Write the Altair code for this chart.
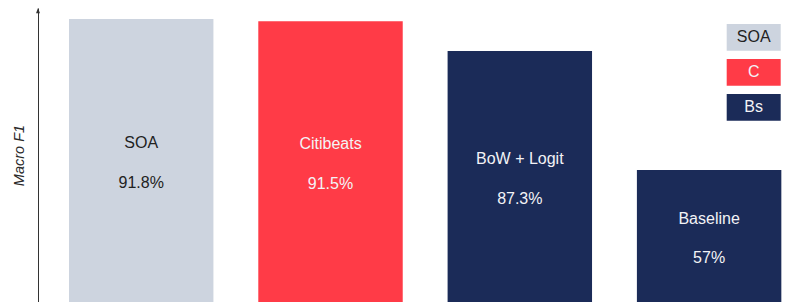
import altair as alt
import pandas as pd

methods = ["SOA", "Citibeats", "BoW + Logit", "Baseline"]
scores = [91.8, 91.5, 87.3, 57]
score_labels = ["91.8%", "91.5%", "87.3%", "57%"]
groups = ["SOA", "C", "Bs", "Bs"]
legend_keys = ["SOA", "C", "Bs"]
palette = ["#CDD4DF", "#FF3B47", "#1B2B58"]

df = pd.DataFrame({"method": methods, "score": scores, "label": score_labels, "group": groups})
leg = pd.DataFrame({"group": legend_keys})
tip = pd.DataFrame({"t": [0]})

W, H = 761, 294
FONT = "Liberation Sans"

y_scale = alt.Scale(domain=[0, 57, 87.3, 91.8, 100], range=[H, 162, 43, 11, 0])
x_scale = alt.Scale(domain=methods, paddingInner=0.237, paddingOuter=0.1285, align=0.637)
color_scale = alt.Scale(domain=legend_keys, range=palette)
text_color = alt.condition("datum.group == 'SOA'", alt.value("#222222"), alt.value("#F3F3F6"))

x_enc = alt.X("method:N", sort=methods, scale=x_scale, axis=None)

bars = alt.Chart(df).mark_bar().encode(
    x=x_enc,
    y=alt.Y("score:Q", scale=y_scale,
            axis=alt.Axis(title="Macro F1", ticks=False, labels=False, grid=False,
                          domainColor="#333333", domainWidth=1,
                          titleFont=FONT, titleFontSize=14.5, titleFontStyle="italic",
                          titleFontWeight="normal", titleColor="#2A2A2A", titlePadding=12)),
    color=alt.Color("group:N", scale=color_scale, legend=None),
)

names = alt.Chart(df).mark_text(font=FONT, fontSize=16, baseline="middle").encode(
    x=x_enc,
    y=alt.value({"expr": "(scale('layer_0_y', datum.score) + 297) / 2 - 19"}),
    text="method:N",
    color=text_color,
)

pcts = alt.Chart(df).mark_text(font=FONT, fontSize=16, baseline="middle").encode(
    x=x_enc,
    y=alt.value({"expr": "(scale('layer_0_y', datum.score) + 297) / 2 + 20.5"}),
    text="label:N",
    color=text_color,
)

arrow = alt.Chart(tip).mark_point(shape="M0,0L-1,2.6L1,2.6Z", filled=True, size=16,
                                  color="#333333", opacity=1).encode(
    x=alt.value(0),
    y=alt.datum(100),
)

main = alt.layer(bars, names, pcts, arrow)

leg_y = alt.Y("group:N", sort=legend_keys,
              scale=alt.Scale(domain=legend_keys, range=[16, 112.7], paddingInner=0.237, paddingOuter=0),
              axis=None)

leg_boxes = alt.Chart(leg).mark_rect().encode(
    x=alt.value(688.7), x2=alt.value(742.7),
    y=leg_y,
    color=alt.Color("group:N", scale=color_scale, legend=None),
)
leg_text = alt.Chart(leg).mark_text(font=FONT, fontSize=16, baseline="middle").encode(
    x=alt.value(715.7),
    y=leg_y,
    text="group:N",
    color=text_color,
)
legend = alt.layer(leg_boxes, leg_text)

chart = alt.layer(main, legend).resolve_scale(y="independent").properties(
    width=W, height=H,
    padding={"left": 30, "top": 0, "right": 0, "bottom": 0},
    autosize=alt.AutoSizeParams(type="none"),
    background="white",
).configure_view(stroke=None)

chart.save("out.html", embed_options={"renderer": "svg", "actions": False})
